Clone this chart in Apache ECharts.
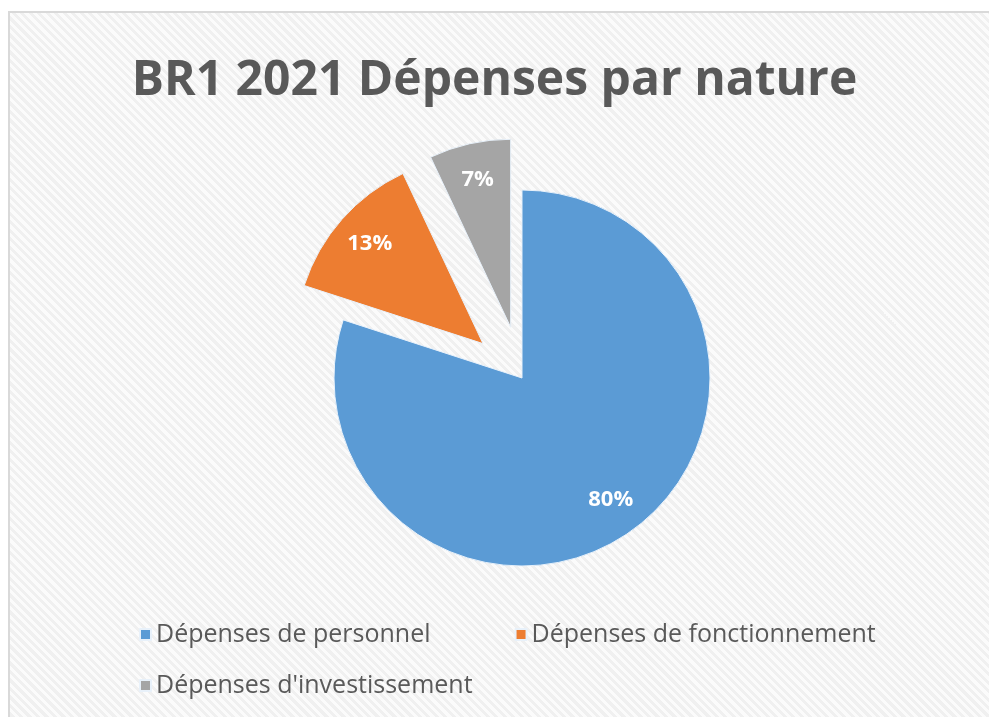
<!DOCTYPE html>
<html>
<head>
<meta charset="utf-8">
<script src="https://cdn.jsdelivr.net/npm/echarts@6/dist/echarts.min.js"></script>
<style>
  html, body { margin: 0; padding: 0; background: #fff; }
  #bg {
    position: absolute; left: 8px; top: 11px; width: 990px; height: 720px;
    border-left: 2px solid #d9d9d9; border-top: 2px solid #d9d9d9;
    background: repeating-linear-gradient(45deg, #f0f0f0 0px, #f0f0f0 3px, #fbfbfb 3px, #fbfbfb 6px);
  }
  #chart { position: absolute; left: 0; top: 0; width: 989px; height: 717px; }
</style>
</head>
<body>
<div id="bg"></div>
<div id="chart"></div>
<script>
// données
var categories = ["Dépenses de personnel", "Dépenses de fonctionnement", "Dépenses d'investissement"];
var values = [80, 13, 7];
var exploded = [false, true, true];
var colors = ["#5B9BD5", "#ED7D31", "#A5A5A5"];

var myChart = echarts.init(document.getElementById("chart"));

var pieData = categories.map(function (name, i) {
  return { name: name, value: values[i], selected: exploded[i], itemStyle: { color: colors[i] } };
});
// même données, transparent, seulement pour placer les étiquettes plus loin du centre
var labelData = categories.map(function (name, i) {
  return { name: name, value: values[i], selected: exploded[i] };
});

var legendText = { color: "#595959", fontSize: 25, fontFamily: "Open Sans" };

var option = {
  animation: false,
  backgroundColor: "transparent",
  title: {
    text: "BR1 2021 Dépenses par nature",
    left: "center",
    top: 52,
    textStyle: { color: "#595959", fontSize: 48, fontWeight: "bold", fontFamily: "Open Sans" }
  },
  legend: [
    {
      data: [categories[0], categories[1]],
      left: 134, top: 617,
      itemWidth: 11, itemHeight: 11, itemGap: 84,
      icon: "rect",
      textStyle: legendText
    },
    {
      data: [categories[2]],
      left: 134, top: 668,
      itemWidth: 11, itemHeight: 11,
      icon: "rect",
      textStyle: legendText
    }
  ],
  series: [
    {
      name: "Dépenses",
      type: "pie",
      center: [522, 378],
      radius: [0, 188],
      startAngle: 90,
      selectedMode: "multiple",
      selectedOffset: 52,
      label: { show: false },
      labelLine: { show: false },
      emphasis: { disabled: true },
      itemStyle: { borderColor: "#e8f1fa", borderWidth: 1 },
      data: pieData
    },
    {
      name: "labels",
      type: "pie",
      center: [522, 378],
      radius: [108, 188],
      startAngle: 90,
      silent: true,
      selectedMode: "multiple",
      selectedOffset: 52,
      percentPrecision: 0,
      itemStyle: { color: "transparent" },
      label: {
        show: true,
        position: "inside",
        formatter: "{d}%",
        color: "#fff",
        fontSize: 22,
        fontWeight: "bold",
        fontFamily: "Open Sans"
      },
      labelLine: { show: false },
      emphasis: { disabled: true },
      data: labelData
    }
  ]
};

myChart.setOption(option);
</script>
</body>
</html>
